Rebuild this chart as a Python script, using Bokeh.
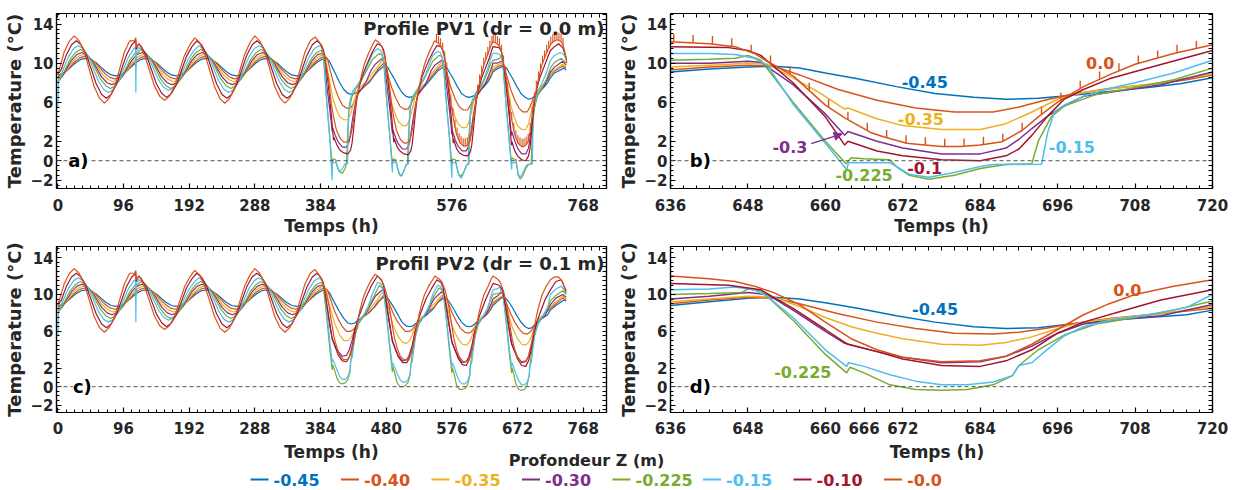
from bokeh.plotting import figure
from bokeh.models import (Range1d, FixedTicker, LinearAxis, Span, Label, Arrow,
                          NormalHead, ColumnDataSource)
from bokeh.layouts import column, row
from bokeh.embed import file_html
from bokeh.resources import INLINE
from bokeh.core.properties import value

FONT = "DejaVu Sans"
INK = "#262626"

# ---------------- series identity ----------------
KEYS = ["bl", "or40", "ye", "pu", "gr", "lb", "dr", "or0"]
DEPTHS = ["-0.45", "-0.40", "-0.35", "-0.30", "-0.225", "-0.15", "-0.10", "-0.0"]
COLORS = ["#0072BD", "#D95319", "#EDB120", "#7E2F8E", "#77AC30", "#4DBEEE", "#A2142F", "#D95319"]

# ---------------- tick labels ----------------
Y_TICKS = [-2, 0, 2, 6, 10, 14]
X_TICKS_A = [0, 96, 192, 288, 384, 576, 768]
X_TICKS_C = [0, 96, 192, 288, 384, 480, 576, 672, 768]
X_TICKS_B = [636, 648, 660, 672, 684, 696, 708, 720]
X_TICKS_D = [636, 648, 660, 666, 672, 684, 696, 708, 720]

# ---------------- data: (time h, temperature degC) ----------------
# first four (normal) cycles, identical for both profiles
early_or0 = [(0,8.8),(2,9.35),(9,11.1),(17,12.3),
             (24,12.8),(31,12.3),(39,11.1),(46,9.35),(53,7.6),(61,6.4),(68,5.9),(75,6.4),(83,7.6),(90,9.35),(97,11.1),(105,12.3),
             (112,12.3),(114,12.6),(114.5,11.6),(119,12.0),(127,10.8),(134,9.25),(141,7.7),(149,6.6),(156,6.2),(163,6.6),(171,7.7),(178,9.25),(185,10.8),(193,11.9),
             (200,12.6),(207,12.15),(215,10.9),(222,9.25),(229,7.6),(237,6.35),(244,5.9),(251,6.35),(259,7.6),(266,9.25),(273,10.9),(281,12.15),
             (288,12.8),(295,12.3),(303,11.1),(310,9.35),(317,7.6),(325,6.4),(332,5.9),(339,6.4),(347,7.6),(354,9.35),(361,11.1),(369,12.3)]
early_dr = [(0,8.9),(5,9.35),(12,10.8),(20,11.9),
            (27,12.3),(34,11.9),(42,10.8),(49,9.35),(56,7.9),(64,6.8),(71,6.4),(78,6.8),(86,7.9),(93,9.35),(100,10.8),(108,11.9),
            (114,12.3),(114.5,11.4),(118,12.0),(122,11.7),(130,10.7),(137,9.3),(144,7.9),(152,6.9),(159,6.5),(166,6.9),(174,7.9),(181,9.3),(188,10.7),(196,11.7),
            (203,12.3),(210,11.9),(218,10.8),(225,9.35),(232,7.9),(240,6.8),(247,6.4),(254,6.8),(262,7.9),(269,9.35),(276,10.8),(284,11.9),
            (291,12.3),(298,11.9),(306,10.8),(313,9.35),(320,7.9),(328,6.8),(335,6.4),(342,6.8),(350,7.9),(357,9.35),(364,10.8),(372,11.9)]
early_lb = [(0,5.5),(1,8.2),(8,9.4),(15,10.6),(23,11.5),
            (30,11.8),(37,11.5),(45,10.6),(52,9.4),(59,8.2),(67,7.3),(74,7.0),(81,7.3),(89,8.2),(96,9.4),(103,10.6),(111,11.5),
            (113.5,11.6),(114,7.0),(114.5,11.0),
            (118,11.6),(125,11.3),(133,10.5),(140,9.4),(147,8.3),(155,7.5),(162,7.2),(169,7.5),(177,8.3),(184,9.4),(191,10.5),(199,11.3),
            (206,11.8),(213,11.5),(221,10.6),(228,9.4),(235,8.2),(243,7.3),(250,7.0),(257,7.3),(265,8.2),(272,9.4),(279,10.6),(287,11.5),
            (294,11.8),(301,11.5),(309,10.6),(316,9.4),(323,8.2),(331,7.3),(338,7.0),(345,7.3),(353,8.2),(360,9.4),(367,10.6),(375,11.5)]
early_gr = [(0,8.1),(4,8.4),(11,9.4),(18,10.4),(26,11.1),
            (33,11.4),(40,11.1),(48,10.4),(55,9.4),(62,8.4),(70,7.7),(77,7.4),(84,7.7),(92,8.4),(99,9.4),(106,10.4),
            (114,11.1),(114.5,9.8),(115,10.9),
            (121,11.4),(128,11.1),(136,10.4),(143,9.4),(150,8.4),(158,7.7),(165,7.4),(172,7.7),(180,8.4),(187,9.4),(194,10.4),(202,11.1),
            (209,11.4),(216,11.1),(224,10.4),(231,9.4),(238,8.4),(246,7.7),(253,7.4),(260,7.7),(268,8.4),(275,9.4),(282,10.4),(290,11.1),
            (297,11.4),(304,11.1),(312,10.4),(319,9.4),(326,8.4),(334,7.7),(341,7.4),(348,7.7),(356,8.4),(363,9.4),(370,10.4),(378,11.1)]
early_pu = [(0,8.2),(6,8.6),(13,9.45),(20,10.3),(28,10.9),
            (35,11.1),(42,10.9),(50,10.3),(57,9.45),(64,8.6),(72,8.0),(79,7.8),(86,8.0),(94,8.6),(101,9.45),(108,10.3),(116,10.9),
            (123,11.1),(130,10.9),(138,10.3),(145,9.45),(152,8.6),(160,8.0),(167,7.8),(174,8.0),(182,8.6),(189,9.45),(196,10.3),(204,10.9),
            (211,11.1),(218,10.9),(226,10.3),(233,9.45),(240,8.6),(248,8.0),(255,7.8),(262,8.0),(270,8.6),(277,9.45),(284,10.3),(292,10.9),
            (299,11.1),(306,10.9),(314,10.3),(321,9.45),(328,8.6),(336,8.0),(343,7.8),(350,8.0),(358,8.6),(365,9.45),(372,10.3),(380,10.9)]
early_ye = [(0,8.4),(8,8.8),(15,9.5),(22,10.2),(30,10.7),
            (37,10.9),(44,10.7),(52,10.2),(59,9.5),(66,8.8),(74,8.3),(81,8.1),(88,8.3),(96,8.8),(103,9.5),(110,10.2),(118,10.7),
            (125,10.9),(132,10.7),(140,10.2),(147,9.5),(154,8.8),(162,8.3),(169,8.1),(176,8.3),(184,8.8),(191,9.5),(198,10.2),(206,10.7),
            (213,10.9),(220,10.7),(228,10.2),(235,9.5),(242,8.8),(250,8.3),(257,8.1),(264,8.3),(272,8.8),(279,9.5),(286,10.2),(294,10.7),
            (301,10.9),(308,10.7),(316,10.2),(323,9.5),(330,8.8),(338,8.3),(345,8.1),(352,8.3),(360,8.8),(367,9.5),(374,10.2),(382,10.7)]
early_or40 = [(0,8.6),(10,9.0),(17,9.55),(24,10.1),(32,10.55),
              (39,10.7),(46,10.55),(54,10.1),(61,9.55),(68,9.0),(76,8.55),(83,8.4),(90,8.55),(98,9.0),(105,9.55),(112,10.1),(120,10.55),
              (127,10.7),(134,10.55),(142,10.1),(149,9.55),(156,9.0),(164,8.55),(171,8.4),(178,8.55),(186,9.0),(193,9.55),(200,10.1),(208,10.55),
              (215,10.7),(222,10.55),(230,10.1),(237,9.55),(244,9.0),(252,8.55),(259,8.4),(266,8.55),(274,9.0),(281,9.55),(288,10.1),(296,10.55),
              (303,10.7),(310,10.55),(318,10.1),(325,9.55),(332,9.0),(340,8.55),(347,8.4),(354,8.55),(362,9.0),(369,9.55),(376,10.1),(384,10.55)]
early_bl = [(0,8.75),(12,9.15),(19,9.6),(26,10.05),(34,10.4),
            (41,10.5),(48,10.4),(56,10.05),(63,9.6),(70,9.15),(78,8.8),(85,8.7),(92,8.8),(100,9.15),(107,9.6),(114,10.05),(122,10.4),
            (129,10.5),(136,10.4),(144,10.05),(151,9.6),(158,9.15),(166,8.8),(173,8.7),(180,8.8),(188,9.15),(195,9.6),(202,10.05),(210,10.4),
            (217,10.5),(224,10.4),(232,10.05),(239,9.6),(246,9.15),(254,8.8),(261,8.7),(268,8.8),(276,9.15),(283,9.6),(290,10.05),(298,10.4),
            (305,10.5),(312,10.4),(320,10.05),(327,9.6),(334,9.15),(342,8.8),(349,8.7),(356,8.8),(364,9.15),(371,9.6),(378,10.05),(386,10.4)]

# profile PV1, cold cycles 5-7
pv1_mid_or0 = [(376,12.7),(382,12.2),(386,11.6),(389,10.9),(391,10.2),(395,8.7),(400,5.7),(403,4.5),(407,3.2),(412.6,2.3),(418,1.9),(421,1.9),(424,2.0),(427.4,2.4),(430.5,3.4),(433,4.6),(436,6.0),(440,7.6),(444,8.8),(448,9.9),(454,11.0),(460,11.9),
               (464,12.4),(470,12.1),(474,11.6),(477,10.9),(479,10.2),(483,8.7),(488,5.7),(491,4.4),(495,3.1),(500.6,2.2),(506,1.8),(509,1.8),(512,1.9),(515.4,2.3),(518.5,3.3),(521,4.6),(524,6.0),(528,7.6),(532,8.8),(536,9.9),(542,11.0),(548,11.9),
               (551,12.3),(557,12.0),(561,11.6),(564,10.9),(566,10.2),(570,8.7),(575,5.7),(578,4.4),(582,2.9),(587.6,1.85),(593,1.5),(596,1.5),(599,1.6),(602.4,2.0),(605.5,3.1),(608,4.5),(611,6.0),(615,7.6),(619,8.8),(623,9.9),(629,11.0)]
pv1_mid_dr = [(379,12.3),(385,11.9),(388,11.4),(390,10.8),(395,8.0),(400,4.5),(403,2.1),(403.5,2.4),(408,1.6),(412,1.1),(418,0.8),(424,0.7),(428,1.1),(430,1.8),(432,3.0),(434.5,4.8),(437,6.3),(440,7.4),(444,8.5),(450,9.6),(455,10.4),(460,11.2),
              (467,12.0),(473,11.8),(476,11.4),(478,10.8),(483,8.0),(488,4.5),(491,1.9),(491.5,2.3),(496,1.4),(500,1.0),(506,0.7),(512,0.6),(516,1.0),(518,1.7),(520,3.0),(522.5,4.8),(525,6.3),(528,7.4),(532,8.5),(538,9.6),(543,10.4),(548,11.1),
              (554,11.8),(560,11.7),(563,11.3),(565,10.8),(570,8.0),(575,4.5),(578,1.8),(578.5,2.2),(583,1.2),(587,0.8),(593,0.55),(599,0.5),(603,0.9),(605,1.6),(607,2.9),(609.5,4.7),(612,6.3),(615,7.3),(619,8.4),(625,9.5),(630,10.4)]
pv1_mid_lb = [(382,11.8),(386,11.6),(389,10.5),(393,6.0),(398,1.8),(401,-2.0),(401.4,-0.2),(407,-0.2),(409,-0.8),(412,-1.2),(416,-0.8),(420,-0.3),(423.5,-0.3),(424.5,3.5),(426,5.8),(430,7.0),(436,7.6),(442,8.2),(448,9.0),(454,10.0),(460,11.0),
              (467,11.5),(472,11.3),(475,10.8),(477,9.8),(481,5.8),(486,1.8),(489,-1.2),(489.4,-0.2),(495,-0.2),(497,-0.8),(500,-1.4),(503,-1.5),(507,-0.8),(510,-0.4),(512.5,-0.3),(513.5,3.0),(515,5.3),(518,6.5),(524,7.2),(530,7.8),(536,8.6),(542,9.7),(548,10.8),
              (555,11.2),(559,11.1),(562,10.6),(564,9.8),(568,5.8),(573,1.8),(576,-1.8),(576.4,-0.2),(582,-0.2),(584,-0.9),(587,-1.6),(590,-1.8),(594,-1.1),(598,-0.4),(601,-0.35),(602,3.0),(603.5,5.2),(606,6.2),(611,7.0),(617,7.6),(623,8.4),(629,9.6),(633,10.6)]
pv1_mid_gr = [(385,11.3),(388,10.8),(393,6.2),(398,2.0),(401,-0.5),(402,0.2),(406,0.1),(408,-0.5),(412,-1.1),(416,-1.3),(420,-0.8),(422,-0.3),(423.5,2.5),(425,5.0),(430,6.6),(436,7.4),(442,8.0),(448,8.8),(454,9.6),(460,10.4),
              (470,11.0),(474,10.8),(476,10.3),(481,6.0),(486,2.0),(489,-0.4),(490,0.2),(494,0.1),(496,-0.6),(499,-1.4),(502,-1.6),(506,-1.0),(509,-0.4),(511,-0.3),(512.5,2.5),(514.5,5.0),(517,6.2),(523,7.0),(529,7.6),(535,8.3),(541,9.2),(548,10.2),
              (557,10.8),(561,10.7),(563,10.3),(568,6.0),(573,2.0),(576,-0.4),(577,0.2),(581,0.1),(583,-0.6),(586,-1.4),(589,-1.6),(593,-1.2),(597,-0.5),(600,-0.3),(601,2.5),(603,5.0),(606,6.0),(611,6.9),(617,7.5),(623,8.2),(629,9.2),(633,10.0)]
pv1_mid_pu = [(387,11.0),(389,10.8),(393,7.8),(398,4.9),(401,3.0),(401.5,3.4),(406,2.5),(410,1.9),(416,1.4),(422,1.4),(426,2.0),(428,2.9),(430,3.9),(432.5,5.0),(435,5.9),(438,6.8),(444,7.4),(450,8.0),(458,9.3),
              (464,9.9),(474,10.5),(476,10.3),(481,7.8),(486,4.8),(489,2.8),(489.5,3.2),(494,2.3),(498,1.7),(504,1.2),(510,1.2),(514,1.8),(516,2.7),(518,3.7),(520.5,4.8),(523,5.8),(526,6.7),(532,7.3),(538,7.9),(546,9.3),
              (551,9.8),(561,10.3),(563,10.2),(568,7.8),(573,4.8),(576,2.7),(576.5,3.1),(581,2.1),(585,1.5),(591,1.0),(597,1.0),(601,1.6),(603,2.5),(605,3.5),(607.5,4.7),(610,5.7),(613,6.7),(619,7.3),(625,7.9),(633,9.3)]
pv1_mid_ye = [(389,10.9),(391,10.7),(395,9.0),(399,7.5),(403,6.0),(403.5,6.1),(408,5.1),(412,4.5),(418,4.2),(424,4.2),(428,4.8),(432,5.8),(436,6.8),(440,7.4),(446,7.8),(452,8.2),(460,9.0),
              (466,9.5),(474,10.3),(477,10.1),(481,8.6),(485,7.0),(489,5.5),(489.5,5.6),(494,4.6),(498,4.0),(504,3.6),(510,3.6),(514,4.2),(518,5.3),(522,6.5),(526,7.1),(532,7.6),(538,8.0),(546,8.9),
              (553,9.5),(561,10.1),(564,9.9),(568,8.5),(572,7.0),(576,5.4),(576.5,5.5),(581,4.4),(585,3.8),(591,3.4),(597,3.4),(601,4.0),(605,5.1),(609,6.4),(613,7.0),(619,7.5),(625,8.0),(633,8.9)]
pv1_mid_or40 = [(391,10.7),(394,10.5),(398,9.3),(404,7.7),(410,6.5),(416,5.7),(422,5.4),(428,5.4),(432,5.9),(436,6.5),(440,7.0),(446,7.5),(452,7.9),(458,8.4),(462,8.8),
                (468,9.4),(476,10.0),(478,9.9),(482,8.9),(488,7.5),(494,6.4),(500,5.6),(506,5.3),(512,5.3),(516,5.8),(520,6.4),(524,6.9),(530,7.4),(536,7.8),(542,8.3),(548,8.8),
                (555,9.4),(563,9.9),(565,9.8),(569,8.8),(575,7.4),(581,6.3),(587,5.5),(593,5.2),(599,5.2),(603,5.7),(607,6.3),(611,6.8),(617,7.4),(623,7.8),(629,8.3),(633,8.8)]
pv1_mid_bl = [(393,10.5),(397,10.2),(401,9.6),(406,8.9),(412,8.0),(418,7.3),(424,6.9),(429,6.8),(434,6.9),(439,7.1),(445,7.4),(451,7.8),(456,8.1),(462,8.7),
              (468,9.2),(478,9.8),(482,9.6),(486,9.1),(491,8.5),(497,7.7),(503,7.0),(509,6.6),(514,6.5),(519,6.6),(524,6.8),(530,7.2),(536,7.6),(541,8.0),(548,8.6),
              (555,9.2),(565,9.7),(569,9.5),(573,9.0),(578,8.4),(584,7.6),(590,6.9),(596,6.6),(601,6.5),(606,6.6),(611,6.8),(617,7.2),(623,7.6),(628,8.0),(633,8.6)]

# profile PV1, last cycle (panel b) and tail
pv1_late_or0 = [(633,11.8),(636,12.2),(642,12.0),(646,11.7),(649,11.0),(651,10.2),(655,8.7),(660,5.7),(663,4.4),(667,2.9),(669,2.45),(672.6,1.8),(675.4,1.6),(678,1.45),(681,1.45),(684,1.6),(687.4,1.95),(690.5,3.1),(693,4.5),(696,6.0),(700,7.6),(704,8.8),(708,9.9),(714,11.0),(720,11.9),(724,12.2),(730,12.4),(736,12.2),(740,11.5),(743,10.5),(744,10.0)]
pv1_late_dr = [(636,11.7),(645,11.6),(648,11.3),(650,10.8),(655,8.0),(660,4.5),(663,1.6),(663.5,2.0),(668,1.0),(672,0.5),(678,0.1),(684,0.0),(688,0.5),(690,1.2),(692,2.6),(694.5,4.6),(697,6.3),(700,7.3),(704,8.4),(710,9.5),(715,10.4),(720,11.3),(726,11.7),(732,12.0),(738,11.6),(743,10.6)]
pv1_late_lb = [(636,11.0),(642,11.0),(646,10.9),(649,10.5),(651,9.8),(655,5.8),(660,1.8),(663.3,-0.9),(663.6,-0.2),(670,-0.2),(671.5,-0.8),(673,-1.4),(676,-1.7),(680,-1.2),(684,-0.6),(686,-0.4),(693.5,-0.35),(694.5,3.0),(695.5,5.0),(697,5.7),(700,6.6),(704,7.4),(708,8.0),(714,9.0),(720,10.3),(726,10.8),(734,11.1),(740,10.9),(743,10.3)]
pv1_late_gr = [(636,10.3),(642,10.4),(646,10.5),(648,10.8),(650,10.3),(655,6.0),(660,2.0),(663.2,-0.3),(664,0.3),(666,0.2),(670,0.1),(671,-0.6),(673,-1.5),(676,-1.9),(680,-1.5),(684,-0.8),(688,-0.4),(692,-0.3),(693,2.0),(695,4.5),(697,5.6),(702,6.8),(708,7.5),(714,8.3),(720,9.5),(726,10.1),(736,10.5),(743,10.0)]
pv1_late_pu = [(636,10.0),(642,10.0),(648,10.2),(650,10.1),(655,7.8),(660,4.8),(663,2.6),(663.5,3.0),(668,2.0),(672,1.3),(678,0.7),(684,0.7),(688,1.3),(690,2.2),(692,3.3),(694.5,4.6),(697,5.6),(700,6.6),(706,7.2),(712,7.8),(720,9.1),(726,9.6),(738,10.2),(743,9.8)]
pv1_late_ye = [(636,9.6),(642,9.8),(648,10.0),(651,9.9),(655,8.5),(659,7.0),(663,5.3),(663.5,5.4),(668,4.3),(672,3.6),(678,3.2),(684,3.2),(688,3.8),(692,5.0),(696,6.3),(700,7.0),(706,7.5),(712,8.0),(720,8.9),(726,9.3),(738,9.9),(743,9.6)]
pv1_late_or40 = [(636,9.3),(642,9.6),(648,9.8),(652,9.7),(656,8.8),(662,7.3),(668,6.2),(674,5.4),(680,5.0),(686,5.0),(690,5.5),(694,6.2),(698,6.8),(704,7.4),(710,7.8),(716,8.3),(720,8.8),(726,9.2),(738,9.7),(743,9.5)]
pv1_late_bl = [(636,9.1),(642,9.4),(648,9.6),(652,9.7),(656,9.5),(660,9.0),(665,8.4),(671,7.6),(677,6.9),(683,6.5),(688,6.3),(693,6.4),(698,6.7),(704,7.1),(710,7.5),(715,7.9),(720,8.5),(726,9.0),(740,9.5),(743,9.3)]

# spikes on the PV1 surface (-0.0) record
pv1_spike_t = [553.5,556.5,559.5,562.5,565.5,568.5,571.5,574.5,577.5,580.5,583.5,586.5,589.5,592.5,595.5,598.5,601.5,604.5,607.5,610.5,613.5,616.5,619.5,622.5,625.5,628.5,631.5,634.5,
               636.5,639.5,642.5,645.5,648.5,651.5,654.5,657.5,660.5,663.5,666.5,669.5,672.5,675.5,678.5,681.5,684.5,687.5,690.5,693.5,696.5,699.5,702.5,705.5,708.5,711.5,714.5,717.5,720.5,723.5,726.5,729.5,732.5,735.5,738.5]
pv1_spike_lo = [12.2,12.0,11.75,11.3,10.4,9.3,7.8,6.0,4.6,3.4,2.6,2.05,1.73,1.53,1.5,1.58,1.9,2.75,4.2,5.75,7.0,8.05,8.95,9.75,10.35,10.9,11.5,12.0,
                12.2,12.1,12.0,11.75,11.1,10.0,8.9,7.2,5.5,4.2,3.1,2.35,1.8,1.6,1.45,1.47,1.65,1.96,3.1,4.75,6.2,7.4,8.35,9.2,10.0,10.5,11.1,11.5,11.94,12.16,12.28,12.4,12.33,12.2,11.8]
pv1_spike_hi = [13.0,12.8,12.55,12.1,11.2,10.1,8.6,6.8,5.4,4.2,3.4,2.85,2.5,2.3,2.3,2.4,2.7,3.55,5.0,6.55,7.8,8.85,9.75,10.55,11.15,11.7,12.3,12.8,
                13.0,12.9,12.8,12.55,11.9,10.8,9.7,8.0,6.3,5.0,3.9,3.15,2.6,2.4,2.25,2.27,2.45,2.76,3.9,5.55,7.0,8.2,9.15,10.0,10.8,11.3,11.9,12.3,12.74,12.96,13.08,13.2,13.13,13.0,12.6]

# profile PV2, cold cycles 5-7
pv2_mid_or0 = [(376,12.7),(382,12.1),(386,11.6),(389,10.9),(392,10.2),(396,8.9),(400,7.0),(404,5.3),(408,4.2),(412,3.4),(418,2.9),(424,3.0),(428,3.5),(432,4.7),(436,6.2),(440,7.8),(444,9.0),(448,10.0),(454,11.0),(460,11.8),
               (464,12.2),(470,11.8),(474,11.4),(477,10.9),(480,10.2),(484,8.9),(488,7.0),(492,5.3),(496,4.2),(500,3.4),(506,2.9),(512,3.0),(516,3.5),(520,4.7),(524,6.2),(528,7.8),(532,9.0),(536,10.0),(542,10.9),(548,11.6),
               (551,12.0),(557,11.7),(561,11.4),(564,10.9),(567,10.2),(571,8.9),(575,7.0),(579,5.2),(583,4.0),(587,3.2),(593,2.7),(599,2.8),(603,3.3),(607,4.6),(611,6.2),(615,7.8),(619,9.0),(623,10.0),(629,10.9),(633,11.6)]
pv2_mid_dr = [(379,12.3),(385,11.8),(388,11.3),(393,9.0),(398,6.6),(401,5.2),(402,5.0),(406,4.2),(410,3.4),(416,2.8),(422,2.7),(426,3.2),(430,4.3),(434,6.0),(438,7.2),(444,8.4),(450,9.6),(458,10.9),
              (467,12.0),(473,11.6),(476,11.0),(481,8.8),(486,6.4),(489,5.0),(490,4.8),(494,4.0),(498,3.2),(504,2.6),(510,2.6),(514,3.1),(518,4.2),(522,5.9),(526,7.1),(532,8.3),(538,9.5),(546,10.6),
              (554,11.6),(560,11.3),(563,10.8),(568,8.6),(573,6.3),(576,4.9),(577,4.7),(581,3.9),(585,3.1),(591,2.4),(597,2.3),(601,2.9),(605,4.1),(609,5.8),(613,7.0),(619,8.2),(625,9.4),(633,10.7)]
pv2_mid_lb = [(382,11.8),(386,11.5),(389,10.8),(393,8.3),(398,4.5),(401,2.6),(401.4,3.0),(404,2.6),(408,1.8),(412,1.1),(416,0.8),(420,0.8),(424,1.1),(427,1.8),(428,2.8),(430,3.1),(432,4.2),(435,5.8),(438,6.7),(442,7.3),(448,7.9),(454,8.8),(460,10.1),
              (467,11.3),(472,11.2),(475,10.7),(477,9.8),(481,7.5),(486,4.0),(489,2.2),(489.4,2.6),(492,2.2),(496,1.4),(500,0.8),(504,0.5),(508,0.5),(512,0.8),(515,1.4),(516,2.4),(518,2.7),(520,3.8),(523,5.5),(526,6.5),(530,7.2),(536,7.8),(542,8.6),(548,10.0),
              (555,11.0),(559,10.9),(562,10.5),(564,9.8),(568,7.5),(573,4.0),(576,2.2),(576.4,2.6),(579,2.2),(583,1.3),(587,0.6),(591,0.3),(595,0.3),(599,0.6),(602,1.3),(603,2.3),(605,2.6),(607,3.8),(610,5.5),(613,6.5),(617,7.2),(623,7.8),(629,8.6),(633,9.8)]
pv2_mid_gr = [(385,11.3),(388,10.9),(393,7.5),(398,3.8),(401,1.8),(401.5,2.4),(404,1.9),(408,0.9),(412,0.4),(416,0.3),(420,0.4),(424,0.8),(427,1.6),(428,2.6),(431,4.2),(435,5.7),(440,6.9),(446,7.5),(452,8.3),(460,9.5),
              (470,11.0),(474,10.7),(476,10.5),(481,7.3),(486,3.6),(489,1.6),(489.5,2.2),(492,1.6),(496,0.4),(500,0.0),(504,0.0),(508,0.1),(512,0.5),(515,1.3),(516,2.4),(519,4.1),(523,5.6),(528,6.8),(534,7.5),(540,8.3),(548,9.6),
              (557,10.7),(561,10.5),(563,10.4),(568,7.2),(573,3.5),(576,1.5),(576.5,2.1),(579,1.5),(583,0.1),(587,-0.3),(591,-0.3),(595,-0.2),(599,0.2),(602,1.2),(603,2.3),(606,4.0),(610,5.6),(615,6.8),(621,7.5),(627,8.3),(633,9.5)]
pv2_mid_pu = [(387,11.0),(389,10.8),(393,8.8),(398,6.4),(401,5.2),(406,4.3),(410,3.8),(416,3.3),(422,3.4),(426,4.0),(430,5.0),(434,6.2),(438,7.0),(444,7.5),(450,7.9),(458,9.0),
              (464,9.8),(474,10.5),(477,10.3),(481,8.5),(486,6.2),(489,4.9),(494,3.9),(498,3.3),(504,2.8),(510,2.9),(514,3.5),(518,4.5),(522,5.9),(526,6.9),(532,7.4),(538,7.8),(546,9.0),
              (551,9.6),(561,10.3),(564,10.1),(568,8.4),(573,6.1),(576,4.8),(581,3.9),(585,3.3),(591,2.6),(597,2.7),(601,3.3),(605,4.4),(609,5.8),(613,6.8),(619,7.3),(625,7.7),(633,8.9)]
pv2_mid_ye = [(389,10.9),(392,10.6),(396,9.2),(400,8.0),(404,7.0),(408,6.3),(412,5.6),(418,5.0),(424,5.0),(428,5.3),(432,5.8),(436,6.6),(440,7.2),(446,7.6),(452,8.0),(460,8.8),
              (466,9.3),(474,10.2),(478,10.0),(482,8.9),(486,7.7),(490,6.7),(494,6.0),(498,5.4),(504,4.8),(510,4.7),(514,5.0),(518,5.6),(522,6.4),(526,7.1),(532,7.5),(538,7.9),(546,8.7),
              (553,9.2),(561,9.9),(565,9.8),(569,8.7),(573,7.5),(577,6.5),(581,5.8),(585,5.2),(591,4.6),(597,4.5),(601,4.8),(605,5.4),(609,6.3),(613,7.0),(619,7.5),(625,7.9),(633,8.7)]
pv2_mid_or40 = [(391,10.7),(394,10.5),(398,9.6),(404,8.3),(410,7.3),(416,6.5),(422,6.0),(428,6.0),(432,6.2),(436,6.6),(440,7.0),(446,7.6),(452,7.9),(458,8.3),(464,8.7),
                (470,9.3),(476,9.9),(480,9.8),(484,9.1),(490,8.0),(496,7.1),(502,6.5),(508,6.0),(514,6.0),(518,6.2),(522,6.6),(526,7.0),(532,7.5),(538,7.9),(544,8.3),(550,8.6),
                (557,9.3),(563,9.8),(567,9.7),(571,9.0),(577,7.9),(583,7.0),(589,6.3),(595,5.9),(601,5.8),(605,6.0),(609,6.4),(613,6.9),(619,7.4),(625,7.8),(631,8.2),(633,8.5)]
pv2_mid_bl = [(393,10.5),(397,10.2),(401,9.6),(406,8.9),(412,8.1),(418,7.4),(424,6.9),(429,6.8),(434,6.9),(439,7.2),(445,7.5),(451,7.8),(456,8.1),(462,8.6),
              (468,9.2),(478,9.8),(482,9.6),(486,9.2),(491,8.6),(497,7.8),(503,7.0),(509,6.6),(514,6.5),(519,6.6),(524,6.9),(530,7.3),(536,7.6),(541,7.9),(548,8.4),
              (555,9.1),(565,9.7),(569,9.5),(573,9.1),(578,8.5),(584,7.7),(590,7.0),(596,6.6),(601,6.5),(606,6.6),(611,6.9),(617,7.3),(623,7.6),(628,7.9),(633,8.4)]

# profile PV2, last cycle (panel d) and tail
pv2_late_or0 = [(636,12.0),(642,11.7),(646,11.4),(649,10.9),(652,10.2),(656,8.9),(660,7.0),(664,5.2),(668,4.0),(672,3.2),(678,2.7),(684,2.8),(688,3.3),(692,4.6),(696,6.2),(700,7.8),(704,9.0),(708,10.0),(714,10.9),(720,11.6),(726,11.9),(732,11.9),(738,11.3),(743,10.2)]
pv2_late_dr = [(636,11.2),(645,11.0),(650,10.5),(655,8.5),(660,6.2),(663,4.8),(663.5,4.6),(668,3.8),(672,3.0),(678,2.3),(684,2.2),(688,2.8),(692,4.0),(696,5.8),(700,7.0),(706,8.2),(712,9.4),(720,10.5),(728,11.4),(736,11.6),(743,10.4)]
pv2_late_lb = [(636,10.5),(642,10.6),(646,10.8),(649,10.5),(651,9.8),(655,7.5),(660,4.0),(663.3,2.2),(663.6,2.6),(666,2.2),(670,1.3),(674,0.6),(678,0.2),(682,0.2),(686,0.5),(689,1.2),(690,2.3),(692,2.6),(694,3.8),(697,5.5),(700,6.5),(704,7.2),(710,7.8),(716,8.6),(720,10.0),(728,10.6),(736,10.9),(743,10.2)]
pv2_late_gr = [(636,10.0),(642,10.1),(647,10.2),(648,10.6),(650,10.4),(655,7.2),(660,3.5),(663.3,1.5),(663.8,2.1),(666,1.5),(670,0.2),(674,-0.3),(678,-0.4),(682,-0.3),(686,0.2),(689,1.2),(690,2.3),(693,4.0),(697,5.6),(702,6.8),(708,7.5),(714,8.3),(720,9.3),(728,9.9),(738,10.4),(743,10.0)]
pv2_late_pu = [(636,9.5),(642,9.8),(648,10.2),(651,10.0),(655,8.3),(660,6.0),(663,4.7),(668,3.8),(672,3.2),(678,2.6),(684,2.7),(688,3.3),(692,4.4),(696,5.8),(700,6.8),(706,7.3),(712,7.7),(720,8.9),(728,9.6),(738,10.0),(743,9.7)]
pv2_late_ye = [(636,9.2),(642,9.5),(648,9.8),(652,9.7),(656,8.7),(660,7.5),(664,6.5),(668,5.8),(672,5.2),(678,4.6),(684,4.5),(688,4.8),(692,5.4),(696,6.3),(700,7.0),(706,7.5),(712,7.9),(720,8.7),(728,9.2),(738,9.8),(743,9.5)]
pv2_late_or40 = [(636,9.0),(642,9.4),(648,9.7),(652,9.6),(656,9.0),(662,7.9),(668,7.0),(674,6.3),(680,5.8),(686,5.7),(690,5.9),(694,6.3),(698,6.8),(704,7.4),(710,7.8),(716,8.2),(720,8.5),(728,9.0),(738,9.6),(743,9.4)]
pv2_late_bl = [(636,8.8),(642,9.2),(648,9.6),(652,9.7),(656,9.5),(660,9.1),(665,8.5),(671,7.7),(677,7.0),(683,6.5),(688,6.3),(693,6.4),(698,6.8),(704,7.2),(710,7.5),(716,7.8),(720,8.3),(728,8.8),(740,9.4),(743,9.3)]

EARLY = dict(bl=early_bl, or40=early_or40, ye=early_ye, pu=early_pu, gr=early_gr, lb=early_lb, dr=early_dr, or0=early_or0)
PV1_MID = dict(bl=pv1_mid_bl, or40=pv1_mid_or40, ye=pv1_mid_ye, pu=pv1_mid_pu, gr=pv1_mid_gr, lb=pv1_mid_lb, dr=pv1_mid_dr, or0=pv1_mid_or0)
PV1_LATE = dict(bl=pv1_late_bl, or40=pv1_late_or40, ye=pv1_late_ye, pu=pv1_late_pu, gr=pv1_late_gr, lb=pv1_late_lb, dr=pv1_late_dr, or0=pv1_late_or0)
PV2_MID = dict(bl=pv2_mid_bl, or40=pv2_mid_or40, ye=pv2_mid_ye, pu=pv2_mid_pu, gr=pv2_mid_gr, lb=pv2_mid_lb, dr=pv2_mid_dr, or0=pv2_mid_or0)
PV2_LATE = dict(bl=pv2_late_bl, or40=pv2_late_or40, ye=pv2_late_ye, pu=pv2_late_pu, gr=pv2_late_gr, lb=pv2_late_lb, dr=pv2_late_dr, or0=pv2_late_or0)


def split(points):
    return [p[0] for p in points], [p[1] for p in points]


def style_axis(ax, ticker, label=None):
    ax.ticker = ticker
    ax.axis_line_color = "black"
    ax.axis_line_width = 1.2
    ax.major_tick_in = 5
    ax.major_tick_out = 0
    ax.minor_tick_in = 3
    ax.minor_tick_out = 0
    ax.major_tick_line_color = "black"
    ax.minor_tick_line_color = "black"
    ax.major_tick_line_width = 1.2
    ax.minor_tick_line_width = 1
    ax.major_label_text_font = FONT
    ax.major_label_text_font_style = "bold"
    ax.major_label_text_font_size = "15px"
    ax.major_label_text_color = INK
    if label:
        ax.axis_label = label
        ax.axis_label_text_font = FONT
        ax.axis_label_text_font_style = "bold"
        ax.axis_label_text_font_size = "17px"
        ax.axis_label_text_color = INK


def make_panel(width, height, borders, xr, yr, xticks, xminor_step, series, xlabel,
               label_standoff, lw):
    left, right, top, bottom = borders
    p = figure(width=width, height=height, x_range=Range1d(*xr), y_range=Range1d(*yr),
               output_backend="svg", toolbar_location=None,
               min_border_left=left, min_border_right=right,
               min_border_top=top, min_border_bottom=bottom)
    p.grid.visible = False
    p.outline_line_color = "black"
    p.outline_line_width = 1.2
    p.background_fill_color = "white"
    p.border_fill_color = "white"

    xminor = []
    v = xr[0] - (xr[0] % xminor_step)
    while v <= xr[1]:
        xminor.append(v)
        v += xminor_step
    yminor = [k * 0.5 for k in range(-6, 31)]

    xa = p.below[0]
    ya = p.left[0]
    style_axis(xa, FixedTicker(ticks=xticks, minor_ticks=xminor), xlabel)
    style_axis(ya, FixedTicker(ticks=Y_TICKS, minor_ticks=yminor), "Temperature (°C)")
    ya.axis_label_text_font_size = "18px"
    xa.major_label_standoff = label_standoff
    xa.axis_label_standoff = 2
    ya.major_label_standoff = 3
    ya.axis_label_standoff = 2

    top_ax = LinearAxis()
    style_axis(top_ax, FixedTicker(ticks=[], minor_ticks=sorted(set(xminor + xticks))))
    top_ax.minor_tick_in = 4
    top_ax.major_label_standoff = 0
    p.add_layout(top_ax, "above")
    right_ax = LinearAxis()
    style_axis(right_ax, FixedTicker(ticks=[], minor_ticks=sorted(set(yminor + Y_TICKS))))
    right_ax.minor_tick_in = 4
    right_ax.major_label_standoff = 0
    p.add_layout(right_ax, "right")

    p.add_layout(Span(location=0, dimension="width", line_color="#555555",
                      line_width=1, line_dash="4 3"))

    for key, color in zip(KEYS, COLORS):
        xs, ys = split(series[key])
        src = ColumnDataSource(dict(t=xs, temp=ys))
        p.line("t", "temp", source=src, line_color=color, line_width=lw)
    return p


def add_spikes(p, lw):
    src = ColumnDataSource(dict(t=pv1_spike_t, lo=pv1_spike_lo, hi=pv1_spike_hi))
    p.segment(x0="t", y0="lo", x1="t", y1="hi", source=src, line_color=COLORS[-1], line_width=lw)


def add_text(p, x, y, text, color, size="15px", align="center", bg=None):
    lab = Label(x=x, y=y, text=text, text_font=FONT, text_font_style="bold",
                text_font_size=size, text_color=color, text_align=align,
                text_baseline="middle")
    if bg:
        lab.background_fill_color = bg
    p.add_layout(lab)


pv1_all = {k: EARLY[k] + PV1_MID[k] + PV1_LATE[k] for k in KEYS}
pv2_all = {k: EARLY[k] + PV2_MID[k] + PV2_LATE[k] for k in KEYS}

fa = make_panel(615, 238, (56, 9, 13, 50), (-2, 802), (-2.85, 15.1), X_TICKS_A, 12, pv1_all, "Temps (h)", 10, 1.2)
add_spikes(fa, 1.1)
add_text(fa, 799, 13.6, "Profile PV1 (dr = 0.0 m)", INK, "18px", "right")
add_text(fa, 15, 0, "a)", "black", "18px", "left", "white")

fb = make_panel(626, 238, (48, 29, 13, 50), (636, 720), (-2.85, 15.1), X_TICKS_B, 2, PV1_LATE, "Temps (h)", 10, 1.5)
add_spikes(fb, 1.4)
add_text(fb, 639, 0, "b)", "black", "18px", "left", "white")
add_text(fb, 675.4, 8.1, "-0.45", COLORS[0], "16px")
add_text(fb, 702.6, 10.0, "0.0", COLORS[7], "16px")
add_text(fb, 674.8, 4.27, "-0.35", COLORS[2], "16px")
add_text(fb, 654.5, 1.42, "-0.3", COLORS[3], "16px")
add_text(fb, 675.4, -0.77, "-0.1", COLORS[6], "16px")
add_text(fb, 666.0, -1.44, "-0.225", COLORS[4], "16px")
add_text(fb, 698.2, 1.42, "-0.15", COLORS[5], "16px")
fb.add_layout(Arrow(end=NormalHead(size=8, fill_color=COLORS[3], line_color=COLORS[3]),
                    x_start=657.8, y_start=1.75, x_end=662.6, y_end=2.75,
                    line_color=COLORS[3], line_width=1.5))

fc = make_panel(615, 204, (56, 9, 8, 30), (-2, 802), (-2.8, 15.2), X_TICKS_C, 12, pv2_all, None, 9, 1.2)
add_text(fc, 799, 13.4, "Profil PV2 (dr = 0.1 m)", INK, "18px", "right")
add_text(fc, 22, 0, "c)", "black", "18px", "left", "white")

fd = make_panel(626, 204, (48, 29, 8, 30), (636, 720), (-2.8, 15.2), X_TICKS_D, 2, PV2_LATE, None, 9, 1.5)
add_text(fd, 639, 0, "d)", "black", "18px", "left", "white")
add_text(fd, 677.0, 8.4, "-0.45", COLORS[0], "16px")
add_text(fd, 706.8, 10.5, "0.0", COLORS[7], "16px")
add_text(fd, 656.5, 1.63, "-0.225", COLORS[4], "16px")

# ---------------- bottom strip: x labels of lower row + legend ----------------
LEG_X0 = [250, 340.5, 431, 521.5, 612, 702.5, 793, 883.5]
LEG_LEN = 18
LEG_Y = 479
fl = figure(width=1241, height=47, x_range=Range1d(0, 1241), y_range=Range1d(489, 442),
            output_backend="svg", toolbar_location=None, x_axis_type=None, y_axis_type=None,
            min_border=0)
fl.grid.visible = False
fl.outline_line_color = None
leg = ColumnDataSource(dict(x0=LEG_X0, x1=[x + LEG_LEN for x in LEG_X0],
                            xt=[x + LEG_LEN + 5 for x in LEG_X0], y=[LEG_Y] * 8,
                            name=DEPTHS, color=COLORS))
fl.segment(x0="x0", y0="y", x1="x1", y1="y", source=leg, line_color="color", line_width=2)
fl.text(x="xt", y="y", text="name", text_color="color", source=leg,
        text_font=value(FONT), text_font_style="bold", text_font_size="16px",
        text_align="left", text_baseline="middle")
hdr = ColumnDataSource(dict(x=[331, 936.5, 586], y=[451, 451, 460],
                            text=["Temps (h)", "Temps (h)", "Profondeur Z (m)"],
                            size=["17px", "17px", "16px"]))
fl.text(x="x", y="y", text="text", source=hdr, text_color=INK, text_font=value(FONT),
        text_font_style="bold", text_font_size="size", text_align="center",
        text_baseline="middle")

layout = column(row(fa, fb), row(fc, fd), fl)
open("out.html", "w").write(file_html(layout, INLINE))
